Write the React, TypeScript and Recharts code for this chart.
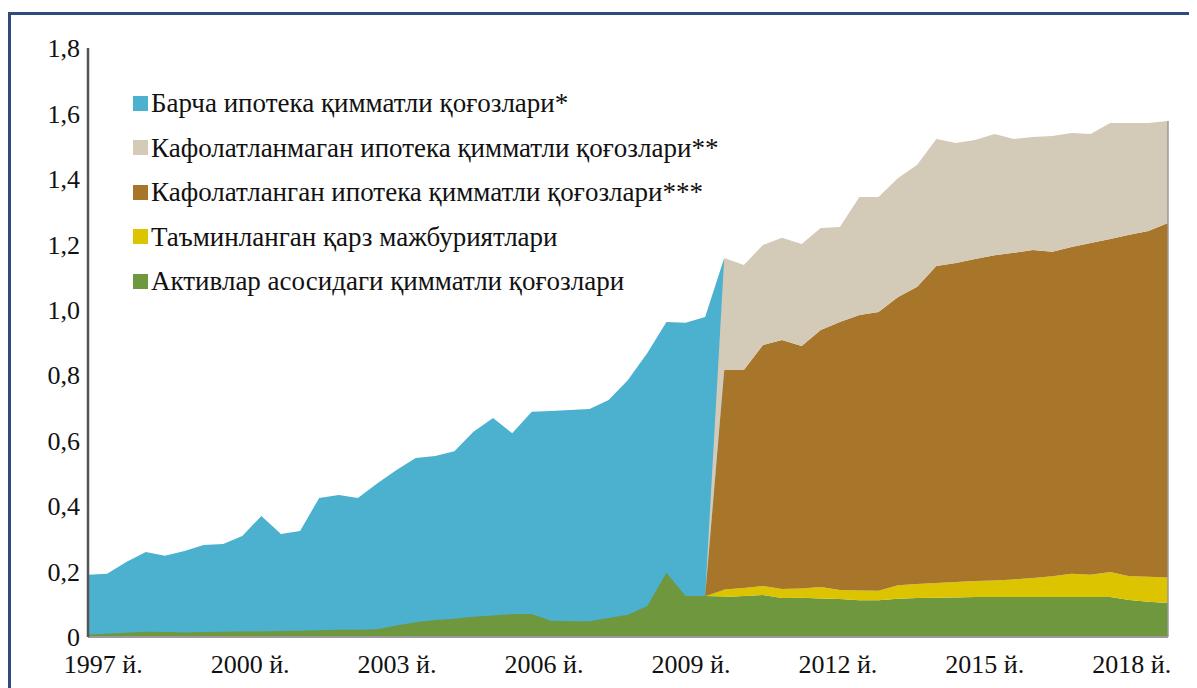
import { AreaChart, Area, XAxis, YAxis, Legend, ReferenceLine } from "recharts";

// time points (decimal years), evenly spaced as in the source chart
const periods = [
  1996.69, 1997.08, 1997.48, 1997.87, 1998.26, 1998.66, 1999.05, 1999.45, 1999.84, 2000.23,
  2000.63, 2001.02, 2001.41, 2001.81, 2002.2, 2002.6, 2002.99, 2003.38, 2003.78, 2004.17,
  2004.56, 2004.96, 2005.35, 2005.75, 2006.14, 2006.53, 2006.93, 2007.32, 2007.71, 2008.11,
  2008.5, 2008.89, 2009.29, 2009.68, 2010.08, 2010.47, 2010.86, 2011.26, 2011.65, 2012.04,
  2012.44, 2012.83, 2013.23, 2013.62, 2014.01, 2014.41, 2014.8, 2015.2, 2015.59, 2015.98,
  2016.38, 2016.77, 2017.16, 2017.56, 2017.95, 2018.34, 2018.74,
];

const yearTicks = [1997, 2000, 2003, 2006, 2009, 2012, 2015, 2018];
const valueTicks = [0, 0.2, 0.4, 0.6, 0.8, 1.0, 1.2, 1.4, 1.6, 1.8];

// all mortgage securities (total height), only until the break
const allMortgage = [
  0.19, 0.193, 0.23, 0.26, 0.248, 0.263, 0.281, 0.284, 0.309, 0.37,
  0.315, 0.324, 0.425, 0.434, 0.425, 0.47, 0.51, 0.547, 0.553, 0.568,
  0.627, 0.669, 0.623, 0.688, 0.691, 0.694, 0.697, 0.724, 0.785, 0.868,
  0.963, 0.96, 0.978, 1.158,
];

// asset-backed securities, whole period
const assetBacked = [
  0.008, 0.01, 0.013, 0.016, 0.015, 0.014, 0.015, 0.016, 0.017, 0.017,
  0.018, 0.019, 0.021, 0.022, 0.022, 0.024, 0.035, 0.045, 0.052, 0.056,
  0.062, 0.066, 0.07, 0.07, 0.05, 0.048, 0.048, 0.058, 0.068, 0.095,
  0.196, 0.125, 0.125,
  0.122, 0.125, 0.128, 0.119, 0.12, 0.118, 0.116, 0.112, 0.112, 0.117,
  0.119, 0.12, 0.121, 0.122, 0.122, 0.122, 0.122, 0.122, 0.122, 0.122,
  0.122, 0.113, 0.108, 0.104,
];

// series that start after the break
const cdo = [
  0.023, 0.025, 0.028, 0.028, 0.028, 0.035, 0.028, 0.03, 0.029, 0.041, 0.043, 0.045,
  0.047, 0.049, 0.051, 0.054, 0.058, 0.064, 0.071, 0.068, 0.077, 0.073, 0.076, 0.078,
];
const agency = [
  0.671, 0.666, 0.736, 0.761, 0.741, 0.785, 0.819, 0.842, 0.852, 0.881, 0.908, 0.969,
  0.975, 0.984, 0.994, 0.998, 1.003, 0.991, 0.999, 1.014, 1.017, 1.043, 1.057, 1.083,
];
const nonAgency = [
  0.342, 0.321, 0.306, 0.312, 0.312, 0.312, 0.29, 0.361, 0.352, 0.364, 0.373, 0.388,
  0.367, 0.364, 0.37, 0.348, 0.345, 0.354, 0.348, 0.333, 0.355, 0.342, 0.33, 0.312,
];

const COLORS = {
  all: "#4cb0cf",
  nonAgency: "#d3cab7",
  agency: "#a7762b",
  cdo: "#dcc400",
  abs: "#6f973e",
};

const legendItems = [
  { label: "Барча ипотека қимматли қоғозлари*", color: COLORS.all },
  { label: "Кафолатланмаган ипотека қимматли қоғозлари**", color: COLORS.nonAgency },
  { label: "Кафолатланган ипотека қимматли қоғозлари***", color: COLORS.agency },
  { label: "Таъминланган қарз мажбуриятлари", color: COLORS.cdo },
  { label: "Активлар асосидаги қимматли қоғозлари", color: COLORS.abs },
];

const breakAt = periods.length - cdo.length;

const data = periods.map((t, i) => ({
  t,
  all: i < allMortgage.length ? allMortgage[i] : null,
  abs: assetBacked[i],
  cdo: i >= breakAt ? cdo[i - breakAt] : 0,
  agency: i >= breakAt ? agency[i - breakAt] : 0,
  nonAgency: i >= breakAt ? nonAgency[i - breakAt] : 0,
}));

const last = data[data.length - 1];
const lastTotal = last.abs + last.cdo + last.agency + last.nonAgency;

const FONT = "'Liberation Serif', 'DejaVu Serif', serif";

function SeriesLegend() {
  return (
    <div style={{ fontFamily: FONT, fontSize: 27, color: "#111", lineHeight: "44.5px" }}>
      {legendItems.map((item) => (
        <div key={item.label} style={{ display: "flex", alignItems: "center", whiteSpace: "nowrap" }}>
          <span
            style={{ display: "inline-block", width: 15, height: 15, background: item.color, marginRight: 3 }}
          />
          {item.label}
        </div>
      ))}
    </div>
  );
}

export default function App() {
  return (
    <div style={{ position: "relative", width: 1189, height: 680, fontFamily: FONT }}>
      <div
        style={{
          position: "absolute",
          left: 0,
          top: 4,
          width: 1200,
          height: 700,
          borderTop: "3px solid #2f4b7c",
          borderLeft: "3px solid #2f4b7c",
        }}
      />
      <AreaChart
        width={1180}
        height={680}
        data={data}
        margin={{ top: 40, right: 20, left: 0, bottom: 11 }}
      >
        <XAxis
          dataKey="t"
          type="number"
          domain={["dataMin", "dataMax"]}
          ticks={yearTicks}
          tickFormatter={(v: number) => `${v} й.`}
          tickLine={false}
          axisLine={{ stroke: "#9a9a9a", strokeWidth: 2 }}
          tick={{ fill: "#111", fontSize: 26, fontFamily: FONT }}
          tickMargin={12}
          height={40}
          interval={0}
        />
        <YAxis
          type="number"
          domain={[0, 1.8]}
          ticks={valueTicks}
          tickFormatter={(v: number) => (v === 0 ? "0" : v.toFixed(1).replace(".", ","))}
          tickLine={false}
          axisLine={{ stroke: "#555", strokeWidth: 2.5 }}
          tick={{ fill: "#111", fontSize: 26, fontFamily: FONT }}
          tickMargin={2}
          width={80}
          interval={0}
        />
        <Legend
          layout="vertical"
          align="center"
          verticalAlign="middle"
          content={<SeriesLegend />}
          wrapperStyle={{ position: "absolute", left: 125, top: 73, width: "auto" }}
        />
        <Area
          type="linear"
          dataKey="all"
          fill={COLORS.all}
          fillOpacity={1}
          stroke="none"
          isAnimationActive={false}
        />
        <Area
          type="linear"
          dataKey="abs"
          stackId="a"
          fill={COLORS.abs}
          fillOpacity={1}
          stroke="none"
          isAnimationActive={false}
        />
        <Area
          type="linear"
          dataKey="cdo"
          stackId="a"
          fill={COLORS.cdo}
          fillOpacity={1}
          stroke="none"
          isAnimationActive={false}
        />
        <Area
          type="linear"
          dataKey="agency"
          stackId="a"
          fill={COLORS.agency}
          fillOpacity={1}
          stroke="none"
          isAnimationActive={false}
        />
        <Area
          type="linear"
          dataKey="nonAgency"
          stackId="a"
          fill={COLORS.nonAgency}
          fillOpacity={1}
          stroke="none"
          isAnimationActive={false}
        />
        <ReferenceLine
          segment={[
            { x: last.t, y: 0 },
            { x: last.t, y: lastTotal },
          ]}
          stroke="#9a9a9a"
          strokeWidth={1.5}
        />
      </AreaChart>
    </div>
  );
}
